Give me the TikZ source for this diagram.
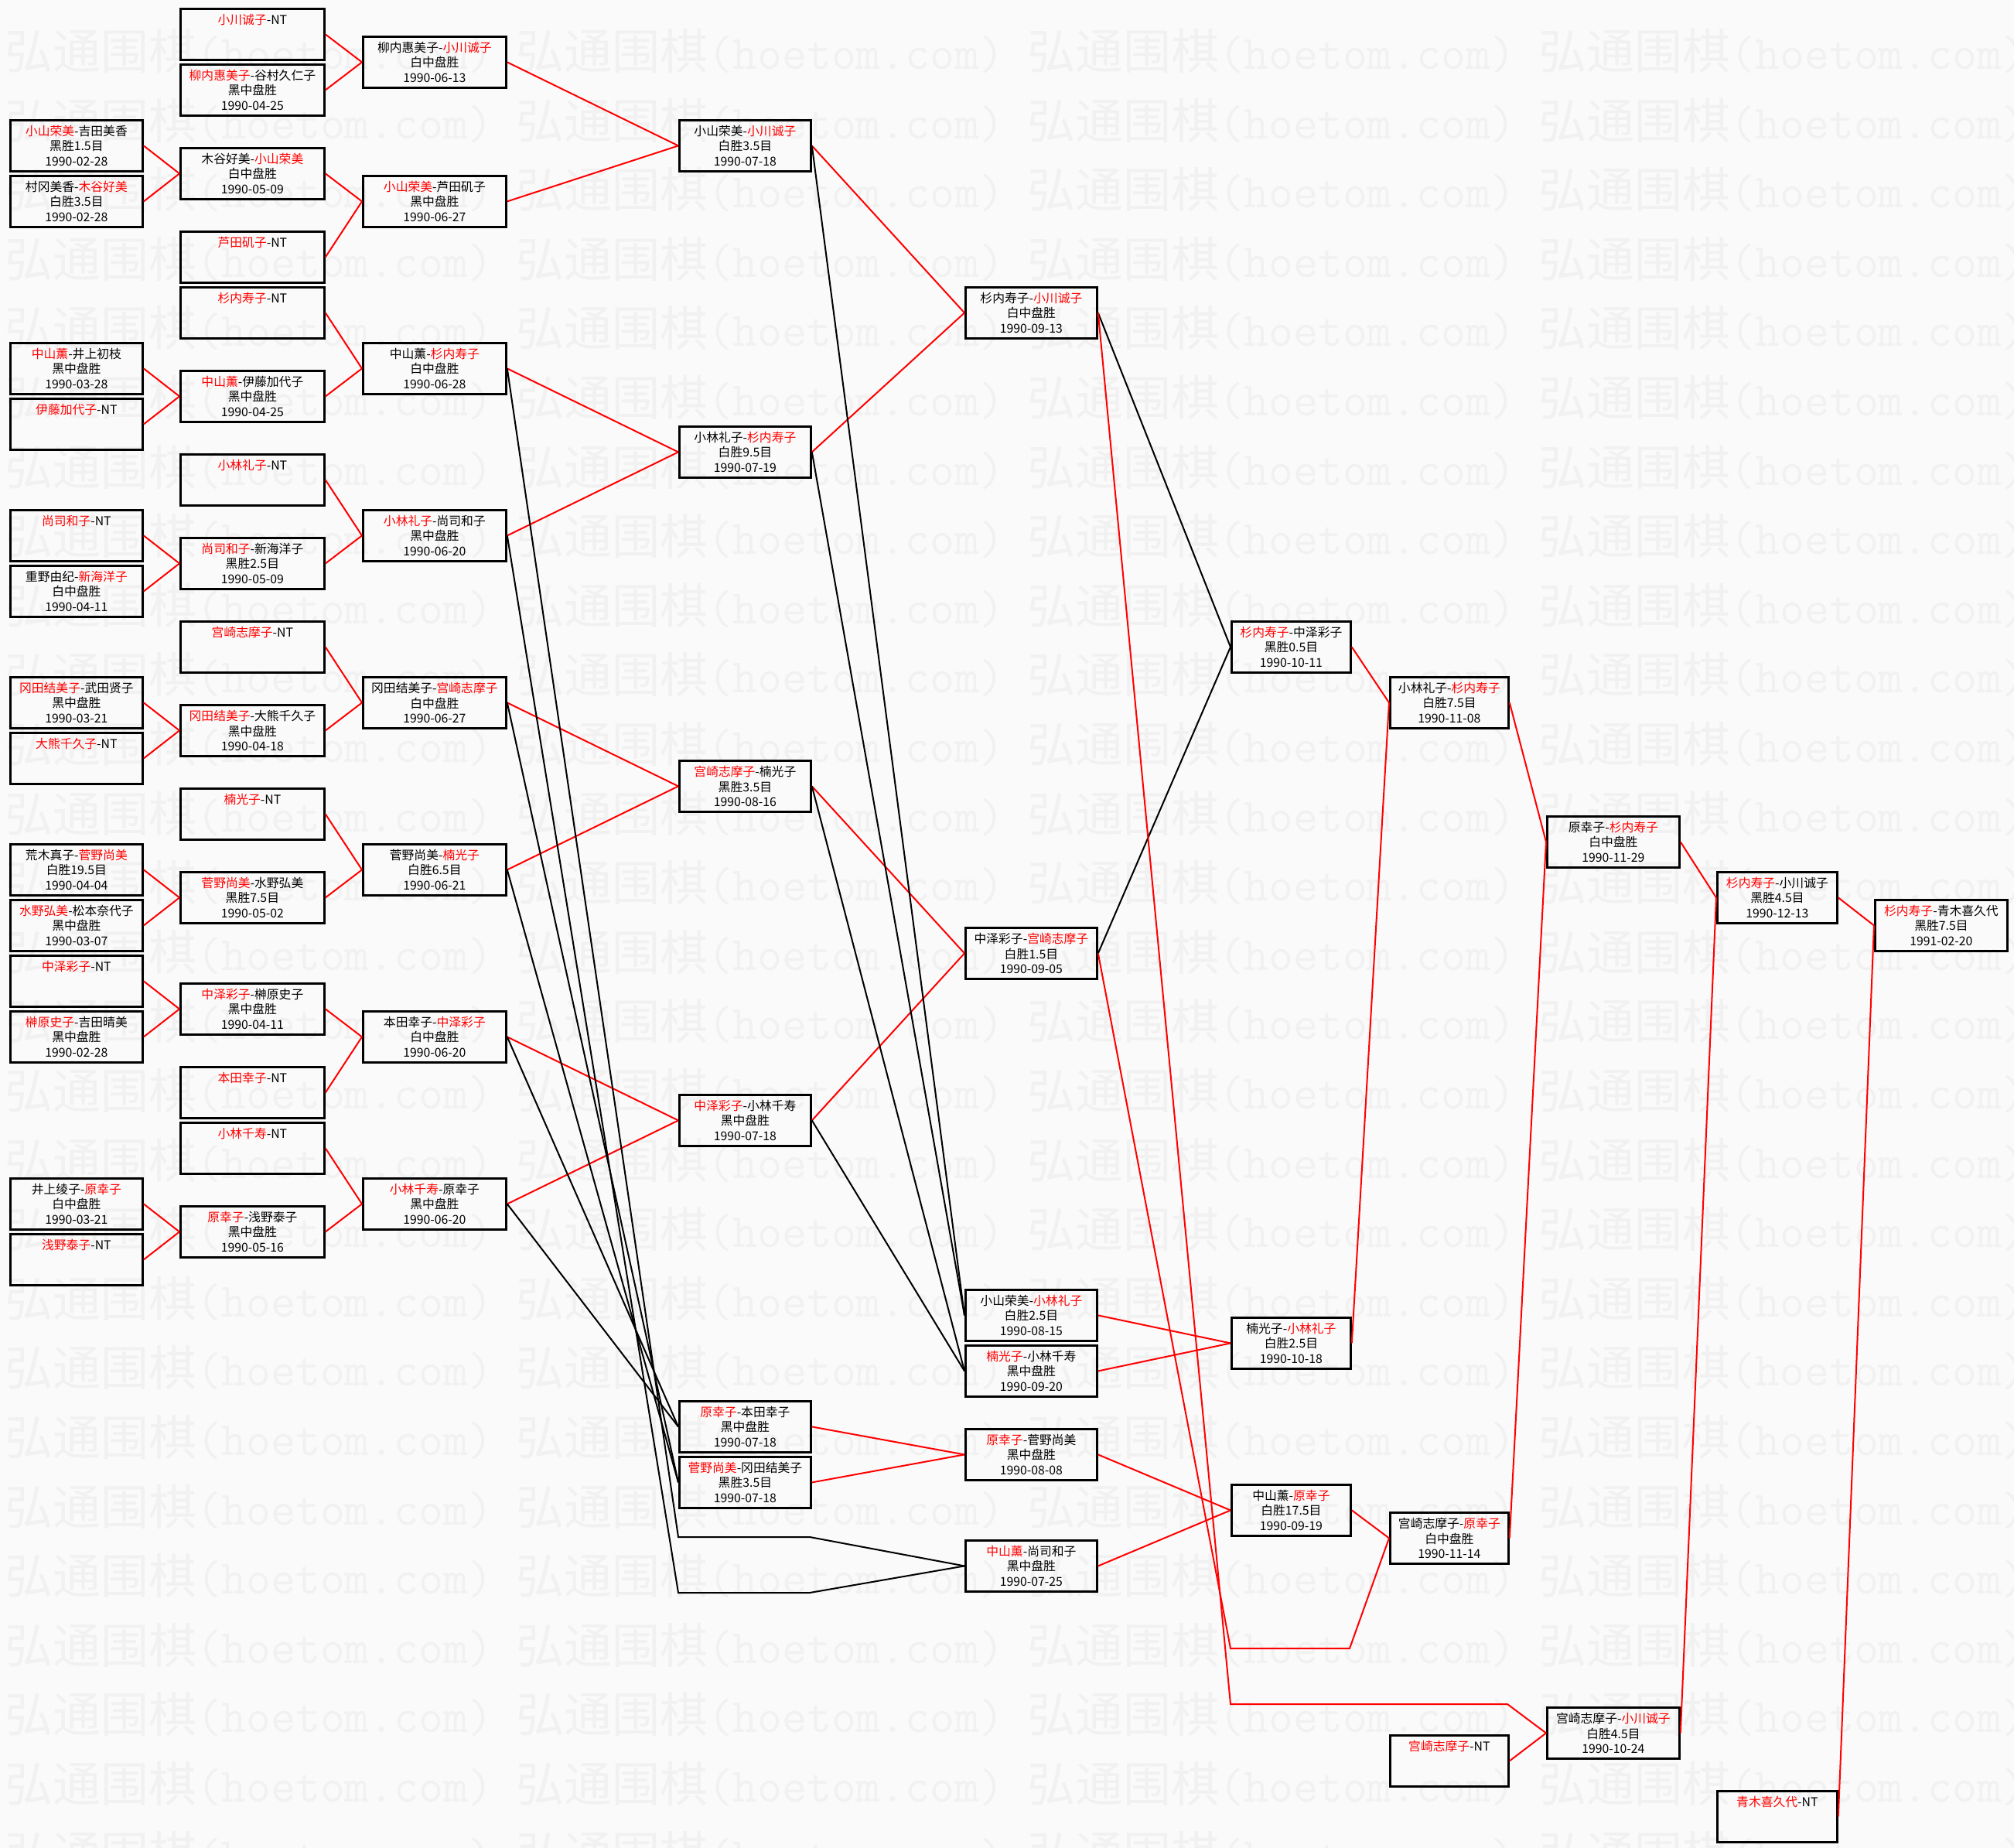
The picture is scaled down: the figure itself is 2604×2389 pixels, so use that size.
\documentclass[tikz,border=0pt]{standalone}
\usepackage{fontspec}
\setmainfont{Noto Sans CJK SC}
\usepackage{tikz}

\definecolor{paper}{RGB}{250,250,250}
\definecolor{wmgray}{RGB}{241,241,241}
\newcommand{\win}[1]{\textcolor{red}{#1}}
\newcommand{\bye}[1]{\win{#1}-NT\\\mbox{}\\\mbox{}}

\tikzset{
  match/.style={rectangle, draw = black, line width = 1.4pt, minimum height = 33pt, inner sep = 0pt, anchor = north west, align = center, font = \fontsize{7.9pt}{9.6pt}\selectfont},
  rd1/.style={match, minimum width = 85.5pt},
  rd2/.style={match, minimum width = 93pt},
  rd3/.style={match, minimum width = 92.5pt},
  rd4/.style={match, minimum width = 85pt},
  rd5/.style={match, minimum width = 85pt},
  rd6/.style={match, minimum width = 77pt},
  rd7/.style={match, minimum width = 76.5pt},
  rd8/.style={match, minimum width = 85.5pt},
  rd9/.style={match, minimum width = 77.5pt},
  rd10/.style={match, minimum width = 85.5pt},
  won/.style={draw = red, line width = 1pt},
  lost/.style={draw = black, line width = 1pt},
  wmark/.style={anchor = west, inner sep = 0pt, text = wmgray, font = \fontsize{31pt}{31pt}\selectfont}
}

\begin{document}
\begin{tikzpicture}[x = 0.5pt, y = -0.5pt]
\path[use as bounding box, fill = paper] (0,0) rectangle (2604,2389);
\foreach \j in {0,...,26}
  \foreach \i in {0,...,3}
    \node[wmark] at ({6+661*\i},{66+89.6*\j}) {弘通围棋{\ttfamily(hoetom.com)}};

\draw (12,154) node[rd1, name = c1k4]{\win{小山荣美}-吉田美香\\黑胜1.5目\\1990-02-28};
\draw (12,226) node[rd1, name = c1k6]{村冈美香-\win{木谷好美}\\白胜3.5目\\1990-02-28};
\draw (12,442) node[rd1, name = c1k12]{\win{中山薰}-井上初枝\\黑中盘胜\\1990-03-28};
\draw (12,514) node[rd1, name = c1k14]{\bye{伊藤加代子}};
\draw (12,658) node[rd1, name = c1k18]{\bye{尚司和子}};
\draw (12,730) node[rd1, name = c1k20]{重野由纪-\win{新海洋子}\\白中盘胜\\1990-04-11};
\draw (12,874) node[rd1, name = c1k24]{\win{冈田结美子}-武田贤子\\黑中盘胜\\1990-03-21};
\draw (12,946) node[rd1, name = c1k26]{\bye{大熊千久子}};
\draw (12,1090) node[rd1, name = c1k30]{荒木真子-\win{菅野尚美}\\白胜19.5目\\1990-04-04};
\draw (12,1162) node[rd1, name = c1k32]{\win{水野弘美}-松本奈代子\\黑中盘胜\\1990-03-07};
\draw (12,1234) node[rd1, name = c1k34]{\bye{中泽彩子}};
\draw (12,1306) node[rd1, name = c1k36]{\win{榊原史子}-吉田晴美\\黑中盘胜\\1990-02-28};
\draw (12,1522) node[rd1, name = c1k42]{井上绫子-\win{原幸子}\\白中盘胜\\1990-03-21};
\draw (12,1594) node[rd1, name = c1k44]{\bye{浅野泰子}};

\draw (232,10) node[rd2, name = c2k0]{\bye{小川诚子}};
\draw (232,82) node[rd2, name = c2k2]{\win{柳内惠美子}-谷村久仁子\\黑中盘胜\\1990-04-25};
\draw (232,190) node[rd2, name = c2k5]{木谷好美-\win{小山荣美}\\白中盘胜\\1990-05-09};
\draw (232,298) node[rd2, name = c2k8]{\bye{芦田矶子}};
\draw (232,370) node[rd2, name = c2k10]{\bye{杉内寿子}};
\draw (232,478) node[rd2, name = c2k13]{\win{中山薰}-伊藤加代子\\黑中盘胜\\1990-04-25};
\draw (232,586) node[rd2, name = c2k16]{\bye{小林礼子}};
\draw (232,694) node[rd2, name = c2k19]{\win{尚司和子}-新海洋子\\黑胜2.5目\\1990-05-09};
\draw (232,802) node[rd2, name = c2k22]{\bye{宫崎志摩子}};
\draw (232,910) node[rd2, name = c2k25]{\win{冈田结美子}-大熊千久子\\黑中盘胜\\1990-04-18};
\draw (232,1018) node[rd2, name = c2k28]{\bye{楠光子}};
\draw (232,1126) node[rd2, name = c2k31]{\win{菅野尚美}-水野弘美\\黑胜7.5目\\1990-05-02};
\draw (232,1270) node[rd2, name = c2k35]{\win{中泽彩子}-榊原史子\\黑中盘胜\\1990-04-11};
\draw (232,1378) node[rd2, name = c2k38]{\bye{本田幸子}};
\draw (232,1450) node[rd2, name = c2k40]{\bye{小林千寿}};
\draw (232,1558) node[rd2, name = c2k43]{\win{原幸子}-浅野泰子\\黑中盘胜\\1990-05-16};

\draw (468,46) node[rd3, name = c3k1]{柳内惠美子-\win{小川诚子}\\白中盘胜\\1990-06-13};
\draw (468,226) node[rd3, name = c3k6]{\win{小山荣美}-芦田矶子\\黑中盘胜\\1990-06-27};
\draw (468,442) node[rd3, name = c3k12]{中山薰-\win{杉内寿子}\\白中盘胜\\1990-06-28};
\draw (468,658) node[rd3, name = c3k18]{\win{小林礼子}-尚司和子\\黑中盘胜\\1990-06-20};
\draw (468,874) node[rd3, name = c3k24]{冈田结美子-\win{宫崎志摩子}\\白中盘胜\\1990-06-27};
\draw (468,1090) node[rd3, name = c3k30]{菅野尚美-\win{楠光子}\\白胜6.5目\\1990-06-21};
\draw (468,1306) node[rd3, name = c3k36]{本田幸子-\win{中泽彩子}\\白中盘胜\\1990-06-20};
\draw (468,1522) node[rd3, name = c3k42]{\win{小林千寿}-原幸子\\黑中盘胜\\1990-06-20};

\draw (877,154) node[rd4, name = c4k4]{小山荣美-\win{小川诚子}\\白胜3.5目\\1990-07-18};
\draw (877,550) node[rd4, name = c4k15]{小林礼子-\win{杉内寿子}\\白胜9.5目\\1990-07-19};
\draw (877,982) node[rd4, name = c4k27]{\win{宫崎志摩子}-楠光子\\黑胜3.5目\\1990-08-16};
\draw (877,1414) node[rd4, name = c4k39]{\win{中泽彩子}-小林千寿\\黑中盘胜\\1990-07-18};
\draw (877,1810) node[rd4, name = c4k50]{\win{原幸子}-本田幸子\\黑中盘胜\\1990-07-18};
\draw (877,1882) node[rd4, name = c4k52]{\win{菅野尚美}-冈田结美子\\黑胜3.5目\\1990-07-18};
\coordinate (s54a) at (877,1987);
\coordinate (s54b) at (1047,1987);
\coordinate (s56a) at (877,2059);
\coordinate (s56b) at (1047,2059);

\draw (1247,370) node[rd5, name = c5k10]{杉内寿子-\win{小川诚子}\\白中盘胜\\1990-09-13};
\draw (1247,1198) node[rd5, name = c5k33]{中泽彩子-\win{宫崎志摩子}\\白胜1.5目\\1990-09-05};
\draw (1247,1666) node[rd5, name = c5k46]{小山荣美-\win{小林礼子}\\白胜2.5目\\1990-08-15};
\draw (1247,1738) node[rd5, name = c5k48]{\win{楠光子}-小林千寿\\黑中盘胜\\1990-09-20};
\draw (1247,1846) node[rd5, name = c5k51]{\win{原幸子}-菅野尚美\\黑中盘胜\\1990-08-08};
\draw (1247,1990) node[rd5, name = c5k55]{\win{中山薰}-尚司和子\\黑中盘胜\\1990-07-25};

\draw (1591,802) node[rd6, name = c6k22]{\win{杉内寿子}-中泽彩子\\黑胜0.5目\\1990-10-11};
\draw (1591,1702) node[rd6, name = c6k47]{楠光子-\win{小林礼子}\\白胜2.5目\\1990-10-18};
\draw (1591,1918) node[rd6, name = c6k53]{中山薰-\win{原幸子}\\白胜17.5目\\1990-09-19};
\coordinate (s58a) at (1591,2131);
\coordinate (s58b) at (1745,2131);
\coordinate (s60a) at (1591,2203);
\coordinate (s60b) at (1949,2203);

\draw (1796,874) node[rd7, name = c7k24]{小林礼子-\win{杉内寿子}\\白胜7.5目\\1990-11-08};
\draw (1796,1954) node[rd7, name = c7k54]{宫崎志摩子-\win{原幸子}\\白中盘胜\\1990-11-14};
\draw (1796,2242) node[rd7, name = c7k62]{\bye{宫崎志摩子}};

\draw (1999,1054) node[rd8, name = c8k29]{原幸子-\win{杉内寿子}\\白中盘胜\\1990-11-29};
\draw (1999,2206) node[rd8, name = c8k61]{宫崎志摩子-\win{小川诚子}\\白胜4.5目\\1990-10-24};

\draw (2219,1126) node[rd9, name = c9k31]{\win{杉内寿子}-小川诚子\\黑胜4.5目\\1990-12-13};
\draw (2219,2314) node[rd9, name = c9k64]{\bye{青木喜久代}};

\draw (2423,1162) node[rd10, name = c10k32]{\win{杉内寿子}-青木喜久代\\黑胜7.5目\\1991-02-20};

\draw[won] (c1k4.0) -- (c2k5.180);
\draw[won] (c1k6.0) -- (c2k5.180);
\draw[won] (c1k12.0) -- (c2k13.180);
\draw[won] (c1k14.0) -- (c2k13.180);
\draw[won] (c1k18.0) -- (c2k19.180);
\draw[won] (c1k20.0) -- (c2k19.180);
\draw[won] (c1k24.0) -- (c2k25.180);
\draw[won] (c1k26.0) -- (c2k25.180);
\draw[won] (c1k30.0) -- (c2k31.180);
\draw[won] (c1k32.0) -- (c2k31.180);
\draw[won] (c1k34.0) -- (c2k35.180);
\draw[won] (c1k36.0) -- (c2k35.180);
\draw[won] (c1k42.0) -- (c2k43.180);
\draw[won] (c1k44.0) -- (c2k43.180);

\draw[won] (c2k0.0) -- (c3k1.180);
\draw[won] (c2k2.0) -- (c3k1.180);
\draw[won] (c2k5.0) -- (c3k6.180);
\draw[won] (c2k8.0) -- (c3k6.180);
\draw[won] (c2k10.0) -- (c3k12.180);
\draw[won] (c2k13.0) -- (c3k12.180);
\draw[won] (c2k16.0) -- (c3k18.180);
\draw[won] (c2k19.0) -- (c3k18.180);
\draw[won] (c2k22.0) -- (c3k24.180);
\draw[won] (c2k25.0) -- (c3k24.180);
\draw[won] (c2k28.0) -- (c3k30.180);
\draw[won] (c2k31.0) -- (c3k30.180);
\draw[won] (c2k35.0) -- (c3k36.180);
\draw[won] (c2k38.0) -- (c3k36.180);
\draw[won] (c2k40.0) -- (c3k42.180);
\draw[won] (c2k43.0) -- (c3k42.180);

\draw[won] (c3k1.0) -- (c4k4.180);
\draw[won] (c3k6.0) -- (c4k4.180);
\draw[won] (c3k12.0) -- (c4k15.180);
\draw[won] (c3k18.0) -- (c4k15.180);
\draw[won] (c3k24.0) -- (c4k27.180);
\draw[won] (c3k30.0) -- (c4k27.180);
\draw[won] (c3k36.0) -- (c4k39.180);
\draw[won] (c3k42.0) -- (c4k39.180);
\draw[lost] (c3k42.0) -- (c4k50.180);
\draw[lost] (c3k36.0) -- (c4k50.180);
\draw[lost] (c3k30.0) -- (c4k52.180);
\draw[lost] (c3k24.0) -- (c4k52.180);
\draw[lost] (c3k12.0) -- (s54a) -- (s54b) -- (c5k55.180);
\draw[lost] (c3k18.0) -- (s56a) -- (s56b) -- (c5k55.180);

\draw[won] (c4k4.0) -- (c5k10.180);
\draw[won] (c4k15.0) -- (c5k10.180);
\draw[won] (c4k27.0) -- (c5k33.180);
\draw[won] (c4k39.0) -- (c5k33.180);
\draw[won] (c4k50.0) -- (c5k51.180);
\draw[won] (c4k52.0) -- (c5k51.180);
\draw[lost] (c4k4.0) -- (c5k46.180);
\draw[lost] (c4k15.0) -- (c5k46.180);
\draw[lost] (c4k27.0) -- (c5k48.180);
\draw[lost] (c4k39.0) -- (c5k48.180);

\draw[lost] (c5k10.0) -- (c6k22.180);
\draw[lost] (c5k33.0) -- (c6k22.180);
\draw[won] (c5k46.0) -- (c6k47.180);
\draw[won] (c5k48.0) -- (c6k47.180);
\draw[won] (c5k51.0) -- (c6k53.180);
\draw[won] (c5k55.0) -- (c6k53.180);
\draw[won] (c5k33.0) -- (s58a) -- (s58b) -- (c7k54.180);
\draw[won] (c5k10.0) -- (s60a) -- (s60b) -- (c8k61.180);

\draw[won] (c6k22.0) -- (c7k24.180);
\draw[won] (c6k47.0) -- (c7k24.180);
\draw[won] (c6k53.0) -- (c7k54.180);
\draw[won] (c7k24.0) -- (c8k29.180);
\draw[won] (c7k54.0) -- (c8k29.180);
\draw[won] (c7k62.0) -- (c8k61.180);
\draw[won] (c8k29.0) -- (c9k31.180);
\draw[won] (c8k61.0) -- (c9k31.180);
\draw[won] (c9k31.0) -- (c10k32.180);
\draw[won] (c9k64.0) -- (c10k32.180);
\end{tikzpicture}
\end{document}
